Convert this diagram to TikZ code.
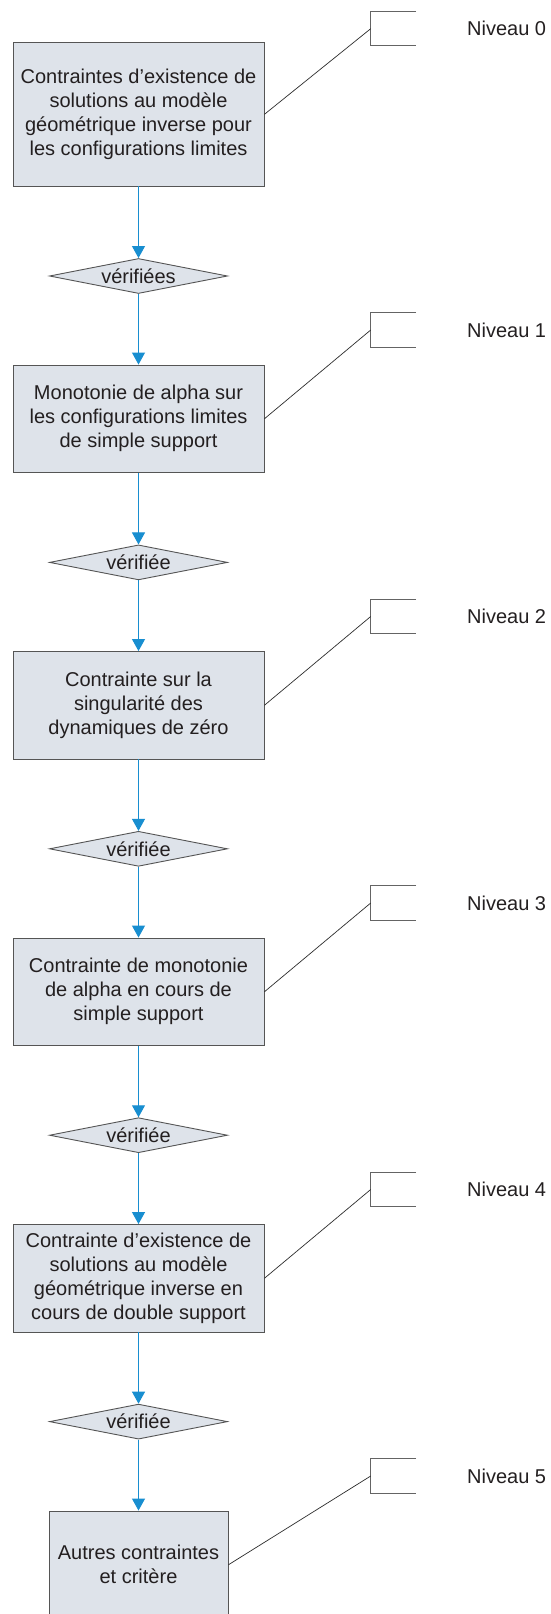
\documentclass[tikz,border=0pt]{standalone}
\usepackage{fontspec}
\setmainfont{Liberation Sans}
\usetikzlibrary{arrows.meta,shapes.geometric}
\definecolor{boxfill}{RGB}{222,227,234}
\definecolor{boxline}{RGB}{85,85,85}
\definecolor{flowblue}{RGB}{24,142,208}
\definecolor{inktext}{RGB}{35,31,32}
\definecolor{leadline}{RGB}{45,45,45}
\definecolor{bracketline}{RGB}{100,100,100}

\begin{document}
\begin{tikzpicture}[x=1pt,y=-1pt,
  every node/.style={font=\fontsize{20}{24}\selectfont, text=inktext},
  stagebox/.style={draw=boxline, line width=0.9pt, fill=boxfill,
    minimum width=251pt, minimum height=107.5pt, align=center, inner sep=0pt},
  checkbox/.style={shape=diamond, draw=boxline, line width=0.9pt, fill=boxfill,
    shape aspect=5, minimum width=178pt, minimum height=35pt, inner sep=0pt},
  flow/.style={draw=flowblue, line width=1pt, -{Triangle[width=13pt,length=12pt]}},
  lead/.style={draw=leadline, line width=0.7pt},
  levelmark/.style={draw=bracketline, line width=1pt},
  levellabel/.style={anchor=west, inner sep=0pt}
]
\clip (0,0) rectangle (550,1614);
\fill[white] (0,0) rectangle (550,1614);

% stages of the flow
\node[stagebox, minimum height=143.3pt] (b0) at (138.5,114.3)
  {Contraintes d’existence de\\solutions au modèle\\géométrique inverse pour\\les configurations limites};
\node[stagebox] (b1) at (138.5,418.75)
  {Monotonie de alpha sur\\les configurations limites\\de simple support};
\node[stagebox] (b2) at (138.5,705.25)
  {Contrainte sur la\\singularité des\\dynamiques de zéro};
\node[stagebox] (b3) at (138.5,991.75)
  {Contrainte de monotonie\\de alpha en cours de\\simple support};
\node[stagebox] (b4) at (138.5,1278.25)
  {Contrainte d’existence de\\solutions au modèle\\géométrique inverse en\\cours de double support};
\node[stagebox, minimum width=179pt] (b5) at (138.5,1564.75)
  {Autres contraintes\\et critère};

% checks between stages
\node[checkbox] (d1) at (138.5,276) {vérifiées};
\node[checkbox] (d2) at (138.5,562.4) {vérifiée};
\node[checkbox] (d3) at (138.5,848.8) {vérifiée};
\node[checkbox] (d4) at (138.5,1135.2) {vérifiée};
\node[checkbox] (d5) at (138.5,1421.6) {vérifiée};

% flow arrows
\draw[flow] (b0) -- (d1);
\draw[flow] (d1) -- (b1);
\draw[flow] (b1) -- (d2);
\draw[flow] (d2) -- (b2);
\draw[flow] (b2) -- (d3);
\draw[flow] (d3) -- (b3);
\draw[flow] (b3) -- (d4);
\draw[flow] (d4) -- (b4);
\draw[flow] (b4) -- (d5);
\draw[flow] (d5) -- (b5);

% level annotations
\foreach \i/\y in {0/28.7,1/330,2/616.5,3/903,4/1189.5,5/1476}{
  \coordinate (m\i) at (370.7,\y);
  \draw[levelmark] (m\i) ++(45.3,-17.2) -- ++(-45.3,0) -- ++(0,34.4) -- ++(45.3,0);
  \node[levellabel] (n\i) at (467,\y) {Niveau \i};
}
\draw[lead] (b0.east) -- (m0);
\draw[lead] (b1.east) -- (m1);
\draw[lead] (b2.east) -- (m2);
\draw[lead] (b3.east) -- (m3);
\draw[lead] (b4.east) -- (m4);
\draw[lead] (b5.east) -- (m5);
\end{tikzpicture}
\end{document}
